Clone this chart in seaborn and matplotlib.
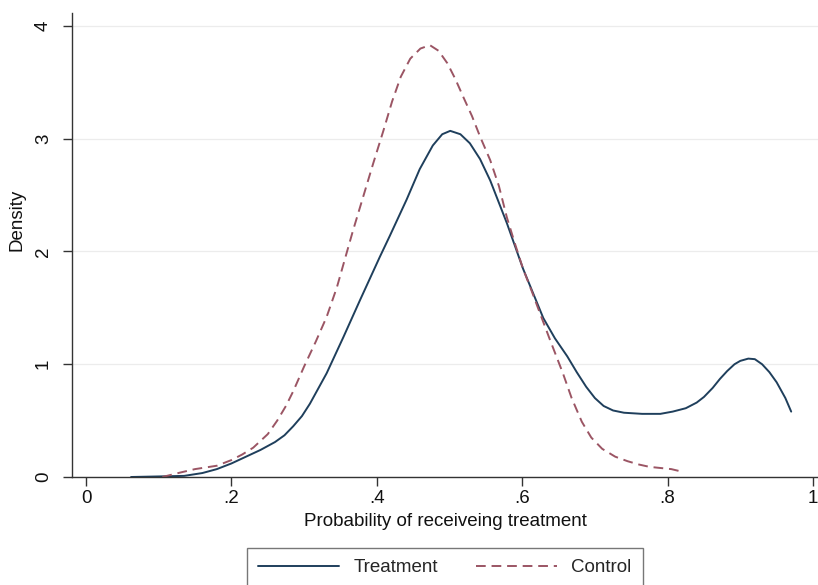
"""
Propensity score density: treatment vs control
"""
import numpy as np
import pandas as pd
import matplotlib
matplotlib.use("Agg")
import matplotlib.pyplot as plt
import seaborn as sns

# Kernel density curves
treat_x = [0.062, 0.10, 0.135, 0.16, 0.18, 0.20, 0.22, 0.24, 0.26, 0.273,
           0.285, 0.297, 0.308, 0.331, 0.354, 0.377, 0.404, 0.418, 0.441, 0.459,
           0.477, 0.49, 0.501, 0.515, 0.528, 0.542, 0.556, 0.579, 0.601, 0.629,
           0.645, 0.662, 0.675, 0.688, 0.70, 0.712, 0.725, 0.74, 0.765, 0.79,
           0.807, 0.825, 0.84, 0.85, 0.862, 0.872, 0.882, 0.892, 0.90, 0.911,
           0.92, 0.93, 0.94, 0.95, 0.962, 0.97]
treat_y = [0.0, 0.005, 0.01, 0.035, 0.07, 0.12, 0.18, 0.24, 0.31, 0.37,
           0.45, 0.54, 0.65, 0.92, 1.24, 1.57, 1.95, 2.14, 2.46, 2.73,
           2.94, 3.04, 3.07, 3.04, 2.96, 2.82, 2.63, 2.25, 1.85, 1.41,
           1.23, 1.07, 0.93, 0.80, 0.70, 0.63, 0.59, 0.57, 0.56, 0.56,
           0.58, 0.61, 0.66, 0.71, 0.79, 0.87, 0.94, 1.0, 1.03, 1.05,
           1.045, 1.0, 0.93, 0.84, 0.70, 0.58]

ctrl_x = [0.105, 0.13, 0.15, 0.18, 0.20, 0.215, 0.23, 0.25, 0.263, 0.275,
          0.285, 0.30, 0.316, 0.331, 0.345, 0.356, 0.367, 0.381, 0.395, 0.409,
          0.421, 0.433, 0.446, 0.46, 0.473, 0.485, 0.497, 0.508, 0.519, 0.531,
          0.542, 0.556, 0.568, 0.579, 0.590, 0.601, 0.613, 0.624, 0.638, 0.656,
          0.668, 0.682, 0.695, 0.71, 0.728, 0.745, 0.761, 0.775, 0.79, 0.805,
          0.818]
ctrl_y = [0.0, 0.04, 0.07, 0.10, 0.15, 0.20, 0.26, 0.38, 0.50, 0.63,
          0.76, 0.98, 1.2, 1.42, 1.68, 1.93, 2.18, 2.48, 2.78, 3.07,
          3.33, 3.55, 3.71, 3.80, 3.83, 3.78, 3.67, 3.53, 3.37, 3.2,
          3.02, 2.81, 2.58, 2.30, 2.07, 1.85, 1.65, 1.46, 1.22, 0.92,
          0.70, 0.49, 0.35, 0.25, 0.18, 0.14, 0.11, 0.09, 0.08, 0.07,
          0.05]

groups = ["Treatment", "Control"]
xticks = [0, 0.2, 0.4, 0.6, 0.8, 1]
xtick_labels = ["0", ".2", ".4", ".6", ".8", "1"]
yticks = [0, 1, 2, 3, 4]

df = pd.concat([
    pd.DataFrame({"x": treat_x, "y": treat_y, "group": "Treatment"}),
    pd.DataFrame({"x": ctrl_x, "y": ctrl_y, "group": "Control"}),
], ignore_index=True)

sns.set_theme(style="white")
plt.rcParams["font.family"] = ["Liberation Sans", "DejaVu Sans"]

fig = plt.figure(figsize=(8.18, 5.85), dpi=100)
ax = fig.add_axes([72 / 818, 108 / 585, 746 / 818, 464 / 585])

palette = {"Treatment": "#1f3f5c", "Control": "#9b5564"}
dashes = {"Treatment": "", "Control": (5, 3)}
sns.lineplot(data=df, x="x", y="y", hue="group", style="group",
             hue_order=groups, style_order=groups, palette=palette,
             dashes=dashes, sort=False, estimator=None, linewidth=1.4,
             legend=False, ax=ax)

ax.set_xlim(-14 / 727, 732 / 727)
ax.set_ylim(0, 464 / 112.75)
ax.set_xticks(xticks)
ax.set_xticklabels(xtick_labels)
ax.set_yticks(yticks)
ax.set_yticklabels([str(v) for v in yticks], rotation=90, va="center")

ax.yaxis.grid(True, color="#ececec", linewidth=0.9)
ax.xaxis.grid(False)
for side in ["top", "right"]:
    ax.spines[side].set_visible(False)
for side in ["left", "bottom"]:
    ax.spines[side].set_color("#333333")
    ax.spines[side].set_linewidth(1.0)

ax.tick_params(axis="both", which="major", direction="out", length=6.5,
               width=1.0, color="#333333", labelsize=13.5, labelcolor="#111111",
               bottom=True, left=True)
ax.tick_params(axis="y", pad=8)
ax.tick_params(axis="x", pad=3)

ax.set_xlabel("Probability of receiveing treatment", fontsize=13.5,
              color="#111111", labelpad=4)
ax.set_ylabel("Density", fontsize=13.5, color="#111111")
ax.yaxis.set_label_coords(-0.062, 0.554)

leg = fig.legend(handles=ax.lines[:2], labels=groups, loc="upper center",
                 bbox_to_anchor=(445 / 818, 37 / 585), ncol=2, frameon=True,
                 fancybox=False, edgecolor="#555555", fontsize=13.5,
                 handlelength=4.3, columnspacing=2.0, borderpad=0.6,
                 borderaxespad=0)
leg.get_frame().set_linewidth(1.0)

fig.savefig("out.png", dpi=100)
